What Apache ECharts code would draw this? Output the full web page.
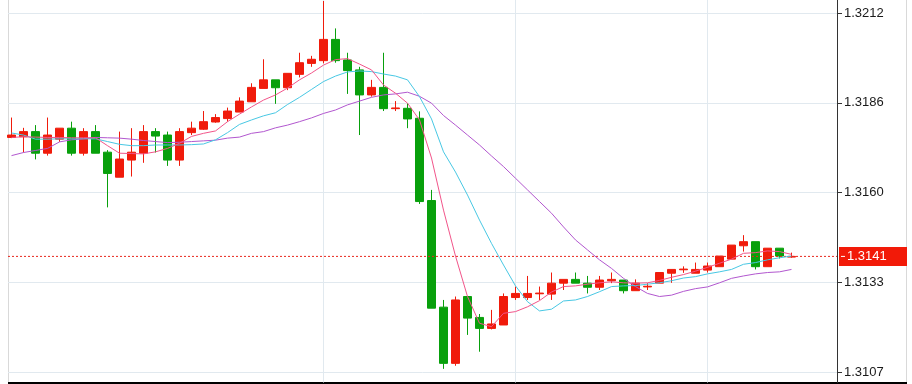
<!DOCTYPE html>
<html><head><meta charset="utf-8">
<script src="https://cdn.jsdelivr.net/npm/echarts@6/dist/echarts.min.js"></script>
<style>html,body{margin:0;padding:0;background:#fff}#c{width:912px;height:384px}</style>
</head><body><div id="c"></div>
<script>
// Candle values (index 0..65)
const opens  = [1.31757,1.31759,1.31774,1.31711,1.31752,1.31784,1.31711,1.31774,1.31714,1.31641,
                1.31691,1.31711,1.31774,1.31764,1.31691,1.31771,1.31781,1.31802,1.31812,1.31831,
                1.31861,1.31900,1.31925,1.31902,1.31941,1.31973,1.31981,1.32043,1.31983,1.31954,
                1.31881,1.31903,1.31841,1.31842,1.31813,1.31573,1.31262,1.31098,1.31293,1.31232,
                1.31200,1.31210,1.31290,1.31290,1.31301,1.31300,1.31332,1.31343,1.31332,1.31320,
                1.31339,1.31341,1.31310,1.31321,1.31332,1.31361,1.31371,1.31361,1.31370,1.31380,
                1.31402,1.31441,1.31453,1.31380,1.31434,1.31408];
const closes = [1.31764,1.31774,1.31711,1.31764,1.31784,1.31711,1.31774,1.31711,1.31652,1.31694,
                1.31714,1.31774,1.31761,1.31691,1.31774,1.31784,1.31803,1.31815,1.31834,1.31863,
                1.31903,1.31925,1.31902,1.31944,1.31975,1.31985,1.32043,1.31981,1.31952,1.31881,
                1.31903,1.31841,1.31843,1.31811,1.31570,1.31259,1.31098,1.31283,1.31230,1.31200,
                1.31213,1.31293,1.31302,1.31302,1.31303,1.31332,1.31343,1.31332,1.31320,1.31341,
                1.31343,1.31310,1.31332,1.31323,1.31363,1.31372,1.31373,1.31372,1.31382,1.31411,
                1.31443,1.31453,1.31380,1.31434,1.31411,1.31410];
const lows   = [1.31755,1.31713,1.31693,1.31704,1.31744,1.31704,1.31704,1.31711,1.31553,1.31641,
                1.31643,1.31683,1.31713,1.31674,1.31674,1.31764,1.31779,1.31800,1.31803,1.31831,
                1.31861,1.31900,1.31855,1.31895,1.31932,1.31963,1.31973,1.31975,1.31884,1.31764,
                1.31876,1.31834,1.31834,1.31784,1.31563,1.31259,1.31082,1.31091,1.31181,1.31132,
                1.31197,1.31210,1.31283,1.31283,1.31283,1.31283,1.31312,1.31332,1.31302,1.31312,
                1.31332,1.31302,1.31310,1.31312,1.31332,1.31333,1.31362,1.31361,1.31363,1.31380,
                1.31402,1.31424,1.31372,1.31380,1.31404,1.31406];
const highs  = [1.31815,1.31785,1.31793,1.31815,1.31784,1.31803,1.31784,1.31793,1.31720,1.31774,
                1.31784,1.31793,1.31784,1.31774,1.31784,1.31803,1.31834,1.31825,1.31844,1.31874,
                1.31915,1.31985,1.31925,1.31944,1.32004,1.31995,1.32155,1.32075,1.32004,1.31963,
                1.31925,1.32004,1.31863,1.31857,1.31833,1.31604,1.31283,1.31293,1.31293,1.31242,
                1.31254,1.31302,1.31322,1.31353,1.31322,1.31363,1.31343,1.31363,1.31353,1.31353,
                1.31363,1.31341,1.31343,1.31332,1.31363,1.31372,1.31381,1.31392,1.31392,1.31411,
                1.31443,1.31472,1.31453,1.31434,1.31434,1.31421];
// Moving averages
const maFast = [1.31757,1.31759,1.31758,1.31757,1.31757,1.31756,1.31756,1.31756,1.31733,1.31711,
                1.31710,1.31709,1.31715,1.31725,1.31740,1.31760,1.31769,1.31776,1.31803,1.31825,
                1.31846,1.31866,1.31881,1.31901,1.31925,1.31945,1.31968,1.31984,1.31987,1.31971,
                1.31954,1.31910,1.31886,1.31857,1.31808,1.31697,1.31545,1.31411,1.31293,1.31215,
                1.31205,1.31244,1.31249,1.31263,1.31281,1.31306,1.31322,1.31324,1.31329,1.31333,
                1.31336,1.31333,1.31332,1.31333,1.31340,1.31349,1.31357,1.31367,1.31378,1.31390,
                1.31402,1.31419,1.31421,1.31426,1.31424,1.31416];
const maMid  = [1.31770,1.31764,1.31752,1.31752,1.31753,1.31753,1.31753,1.31753,1.31745,1.31737,
                1.31733,1.31733,1.31735,1.31735,1.31735,1.31736,1.31738,1.31750,1.31771,1.31795,
                1.31808,1.31820,1.31829,1.31853,1.31874,1.31897,1.31920,1.31936,1.31948,1.31951,
                1.31949,1.31942,1.31936,1.31925,1.31876,1.31811,1.31715,1.31656,1.31589,1.31516,
                1.31448,1.31385,1.31324,1.31278,1.31251,1.31256,1.31280,1.31283,1.31293,1.31307,
                1.31322,1.31324,1.31325,1.31329,1.31333,1.31339,1.31347,1.31351,1.31359,1.31365,
                1.31372,1.31387,1.31392,1.31400,1.31406,1.31411];
const maSlow = [1.31704,1.31713,1.31719,1.31725,1.31744,1.31750,1.31753,1.31757,1.31756,1.31755,
                1.31752,1.31748,1.31745,1.31742,1.31743,1.31745,1.31747,1.31749,1.31755,1.31758,
                1.31769,1.31774,1.31785,1.31793,1.31803,1.31814,1.31827,1.31837,1.31852,1.31863,
                1.31874,1.31881,1.31884,1.31889,1.31877,1.31857,1.31821,1.31793,1.31764,1.31735,
                1.31703,1.31672,1.31638,1.31604,1.31570,1.31536,1.31496,1.31458,1.31429,1.31400,
                1.31375,1.31346,1.31322,1.31302,1.31293,1.31297,1.31308,1.31316,1.31321,1.31333,
                1.31346,1.31353,1.31359,1.31363,1.31365,1.31372];
const lastPrice = 1.3141;
const yTicks = [1.31072, 1.31334, 1.31596, 1.31858, 1.32120];
const xGridAt = [26, 42, 58];

const X_MIN = -0.29167, X_MAX = 68.79167, Y_MIN = 1.310422, Y_MAX = 1.321579;
const UP = '#f01b0b', DOWN = '#08a00c';
const candleData = opens.map((o, i) => [i, o, closes[i], lows[i], highs[i]]);
const toLine = arr => arr.map((v, i) => [i, v]);
const lineSeries = (data, color) => ({
  type: 'line', data: toLine(data), symbol: 'none', smooth: false, z: 5,
  lineStyle: { color: color, width: 1 }, silent: true
});

const chart = echarts.init(document.getElementById('c'));
chart.setOption({
  animation: false,
  backgroundColor: '#fff',
  grid: { left: 8, right: 75, top: 0, bottom: 1.5 },
  xAxis: {
    type: 'value', min: X_MIN, max: X_MAX,
    axisLine: { show: false },
    axisTick: { show: false, customValues: xGridAt },
    axisLabel: { show: false },
    splitLine: { show: true, lineStyle: { color: '#e1e9ef', width: 1 } }
  },
  yAxis: [
    {
      type: 'value', position: 'right', min: Y_MIN, max: Y_MAX,
      axisLine: { show: true, onZero: false, lineStyle: { color: '#333', width: 1 } },
      axisTick: { show: true, length: 5, lineStyle: { color: '#333' }, customValues: yTicks },
      axisLabel: { customValues: yTicks, formatter: v => v.toFixed(4), color: '#1a1a1a',
                   fontFamily: 'Liberation Sans', fontSize: 13, margin: 7 },
      splitLine: { show: true, lineStyle: { color: '#e1e9ef', width: 1 } }
    },
    {
      type: 'value', position: 'right', min: Y_MIN, max: Y_MAX,
      axisLine: { show: false, onZero: false },
      axisTick: { show: false, customValues: [lastPrice] },
      splitLine: { show: false },
      axisLabel: {
        customValues: [lastPrice], margin: 2,
        formatter: v => '{t|}{v|' + v.toFixed(4) + '}',
        backgroundColor: '#f21a08', padding: [2, 6, 2, 2], width: 60, align: 'left',
        rich: {
          t: { width: 4, height: 1, backgroundColor: '#fff' },
          v: { color: '#fff', fontSize: 13, lineHeight: 15, fontFamily: 'Liberation Sans', padding: [0, 0, 0, 2] }
        }
      }
    }
  ],
  series: [
    {
      type: 'candlestick', data: candleData, encode: { x: 0, y: [1, 2, 3, 4] },
      barWidth: 8, z: 3,
      itemStyle: { color: UP, color0: DOWN, borderColor: UP, borderColor0: DOWN, borderWidth: 1 }
    },
    {
      type: 'line', data: [[X_MIN, lastPrice], [X_MAX, lastPrice]], symbol: 'none', silent: true, z: 4,
      lineStyle: { color: '#e8271d', type: [2, 2], width: 1 }
    },
    lineSeries(maSlow, '#b257cf'),
    lineSeries(maMid, '#48c8e4'),
    lineSeries(maFast, '#f2558a')
  ],
  graphic: [
    { type: 'line', silent: true, shape: { x1: 8.5, y1: 0, x2: 8.5, y2: 383 }, style: { stroke: '#d9d9d9', lineWidth: 1 } },
    { type: 'line', silent: true, shape: { x1: 906.5, y1: 0, x2: 906.5, y2: 383 }, style: { stroke: '#d9d9d9', lineWidth: 1 } },
    { type: 'line', silent: true, shape: { x1: 8, y1: 383, x2: 907, y2: 383 }, style: { stroke: '#000', lineWidth: 2 } }
  ]
});
</script></body></html>
